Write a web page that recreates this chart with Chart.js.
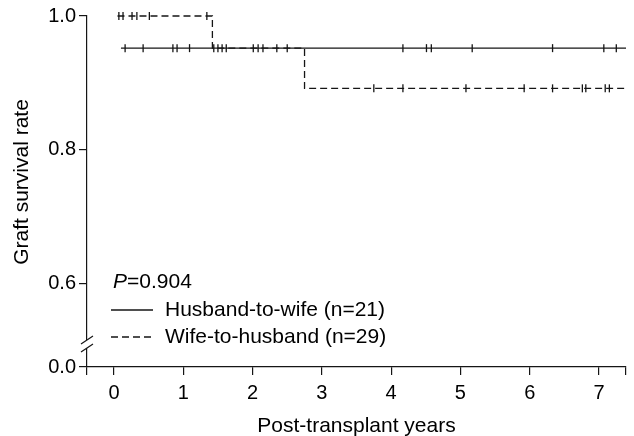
<!DOCTYPE html>
<html>
<head>
<meta charset="utf-8">
<script src="https://cdn.jsdelivr.net/npm/chart.js@4/dist/chart.umd.min.js"></script>
<style>
  html, body { margin: 0; padding: 0; background: #fff; }
  canvas { display: block; }
</style>
</head>
<body>
<canvas id="km" width="634" height="436"></canvas>
<script>
// Kaplan-Meier curves (years, survival)
const husbandTimes  = [0.10, 7.39];
const husbandSurv   = [0.952, 0.952];
const husbandCensor = [0.16, 0.42, 0.85, 0.91, 1.09, 1.44, 1.56, 2.01, 2.15, 2.50,
                       4.17, 4.51, 4.58, 5.17, 6.33, 7.07, 7.25];

const wifeTimes  = [0.05, 1.42, 2.75, 7.37];
const wifeSurv   = [1.0, 0.952, 0.892, 0.892];
const wifeCensor = [0.07, 0.13, 0.26, 0.33, 0.51, 1.34, 1.50, 1.62, 2.08, 2.35,
                    3.75, 4.17, 5.08, 5.92, 6.33, 6.76, 6.81, 7.09, 7.15];

const xTicks  = [0, 1, 2, 3, 4, 5, 6, 7];
const yTicks  = [0.6, 0.8, 1.0];
const yBreak  = 0.476;   // where "0.0" sits below the axis break
const xMin = -0.39, xMax = 7.39;

const seriesNames = ['Husband-to-wife (n=21)', 'Wife-to-husband (n=29)'];
const pValue = '0.904';
const yTitle = 'Graft survival rate';

const FONT = '"Liberation Sans", Arial, Helvetica, sans-serif';
const INK  = '#151515';

// survival value of a step curve at time t
function survAt(times, surv, t) {
  let v = surv[0];
  for (let i = 0; i < times.length; i++) if (times[i] <= t) v = surv[i];
  return v;
}
const pts = (xs, ys) => xs.map((x, i) => ({ x, y: ys[i] }));
const marks = (cs, times, surv) => cs.map(t => ({ x: t, y: survAt(times, surv, t) }));

const curve = (data, dash) => ({
  data, stepped: true, showLine: true, borderColor: INK, borderWidth: 1.3,
  borderDash: dash, pointRadius: 0, fill: false, clip: false,
});
const ticksSet = data => ({
  data, showLine: false, pointStyle: 'line', rotation: 90, pointRadius: 4,
  borderColor: INK, borderWidth: 1.3, clip: false,
});

// y title, P value and key inside the plot, axis break
const kmKey = {
  id: 'kmKey',
  afterDraw(chart) {
    const { ctx, chartArea: a } = chart;
    ctx.save();
    ctx.fillStyle = '#000';
    ctx.textBaseline = 'middle';

    ctx.save();
    ctx.translate(22, 182);
    ctx.rotate(-Math.PI / 2);
    ctx.textAlign = 'center';
    ctx.font = '21px ' + FONT;
    ctx.fillText(yTitle, 0, 0);
    ctx.restore();

    const x0 = a.left + 26;
    ctx.font = 'italic 21px ' + FONT;
    ctx.fillText('P', x0, a.bottom - 85);
    const pw = ctx.measureText('P').width;
    ctx.font = '21px ' + FONT;
    ctx.fillText('=' + pValue, x0 + pw, a.bottom - 85);

    const rows = [[a.bottom - 57, []], [a.bottom - 30, [7, 4]]];
    rows.forEach(([yy, dash], i) => {
      ctx.strokeStyle = INK;
      ctx.lineWidth = 1.3;
      ctx.setLineDash(dash);
      ctx.beginPath();
      ctx.moveTo(x0 - 2, yy);
      ctx.lineTo(x0 + 40, yy);
      ctx.stroke();
      ctx.setLineDash([]);
      ctx.fillText(seriesNames[i], x0 + 52, yy);
    });

    // axis break marks
    const cx = a.left, cy = a.bottom - 23;
    ctx.fillStyle = '#fff';
    ctx.fillRect(cx - 3, cy - 4, 6, 8);
    ctx.strokeStyle = INK;
    ctx.lineWidth = 1.2;
    ctx.beginPath();
    ctx.moveTo(cx - 6, cy);     ctx.lineTo(cx + 6, cy - 8);
    ctx.moveTo(cx - 6, cy + 8); ctx.lineTo(cx + 6, cy);
    ctx.stroke();
    ctx.restore();
  }
};

new Chart(document.getElementById('km'), {
  type: 'scatter',
  data: {
    datasets: [
      curve(pts(husbandTimes, husbandSurv), []),
      curve(pts(wifeTimes, wifeSurv), [7, 4]),
      ticksSet(marks(husbandCensor, husbandTimes, husbandSurv)),
      ticksSet(marks(wifeCensor, wifeTimes, wifeSurv)),
    ],
  },
  options: {
    responsive: false,
    animation: false,
    events: [],
    devicePixelRatio: 1,
    layout: { padding: { top: 16, right: 8, left: 0, bottom: 0 } },
    plugins: { legend: { display: false }, tooltip: { enabled: false } },
    scales: {
      x: {
        type: 'linear', min: xMin, max: xMax,
        afterBuildTicks: s => { s.ticks = [xMin, ...xTicks, xMax].map(v => ({ value: v })); },
        afterFit: s => { s.height = 69; },
        ticks: {
          autoSkip: false, maxRotation: 0, padding: 6, color: '#000',
          font: { size: 20, family: FONT },
          callback: v => (xTicks.includes(v) ? String(v) : ''),
        },
        grid: { drawOnChartArea: false, drawTicks: true, tickLength: 8, color: INK, lineWidth: 1.2 },
        border: { color: INK, width: 1.2 },
        title: { display: true, text: 'Post-transplant years', color: '#000',
                 font: { size: 21, family: FONT, lineHeight: 0.9 }, padding: { top: 0, bottom: 0 } },
      },
      y: {
        type: 'linear', min: yBreak, max: 1.0,
        afterBuildTicks: s => { s.ticks = [yBreak, ...yTicks].map(v => ({ value: v })); },
        afterFit: s => { s.width = 87; },
        ticks: {
          padding: 3, color: '#000',
          font: { size: 20, family: FONT },
          callback: v => (Math.abs(v - yBreak) < 1e-6 ? '0.0' : v.toFixed(1)),
        },
        grid: { drawOnChartArea: false, drawTicks: true, tickLength: 8, color: INK, lineWidth: 1.2 },
        border: { color: INK, width: 1.2 },
      },
    },
  },
  plugins: [kmKey],
});
</script>
</body>
</html>
